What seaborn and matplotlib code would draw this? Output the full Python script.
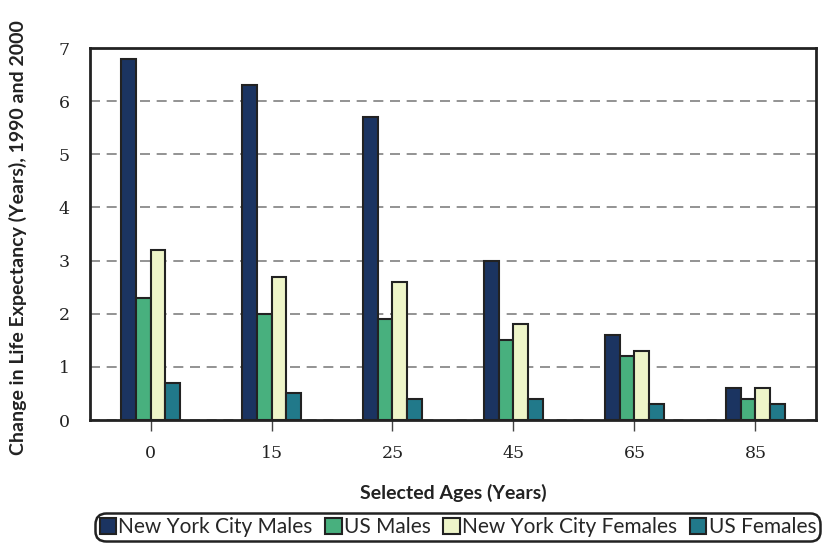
import pandas as pd
import numpy as np
import matplotlib
matplotlib.use('Agg')
import matplotlib.pyplot as plt
import seaborn as sns

# data
ages = ['0', '15', '25', '45', '65', '85']
series = ['New York City Males', 'US Males', 'New York City Females', 'US Females']
nyc_males = [6.8, 6.3, 5.7, 3.0, 1.6, 0.6]
us_males = [2.3, 2.0, 1.9, 1.5, 1.2, 0.4]
nyc_females = [3.2, 2.7, 2.6, 1.8, 1.3, 0.6]
us_females = [0.7, 0.5, 0.4, 0.4, 0.3, 0.3]
colors = ['#1b3461', '#48b07e', '#eef5c9', '#21798a']

rows = []
for name, vals in zip(series, [nyc_males, us_males, nyc_females, us_females]):
    for a, v in zip(ages, vals):
        rows.append({'age': a, 'series': name, 'value': v})
df = pd.DataFrame(rows)

sns.set_style('white')
plt.rcParams['font.family'] = ['Lato', 'DejaVu Sans']

fig = plt.figure(figsize=(8.28, 5.43), dpi=100)
ax = fig.add_axes([0.1087, 0.2265, 0.8768, 0.6851])

sns.barplot(data=df, x='age', y='value', hue='series', order=ages, hue_order=series,
            palette=colors, width=0.48, gap=0, edgecolor='#222222', linewidth=1.5,
            saturation=1, ax=ax, zorder=3)

ax.set_ylim(0, 7)
ax.set_xlim(-0.5, 5.5)
ax.set_yticks(range(0, 8))
ax.yaxis.grid(True, linestyle=(0, (6, 4)), color='#808080', linewidth=1.2, zorder=0)
ax.set_axisbelow(True)
for s in ax.spines.values():
    s.set_color('#222222')
    s.set_linewidth(2)
    s.set_visible(True)

ax.tick_params(axis='x', bottom=True, length=8, width=1, color='#444444', pad=10)
ax.tick_params(axis='y', left=False, pad=11)
for lab in ax.get_xticklabels() + ax.get_yticklabels():
    lab.set_family('DejaVu Serif')
    lab.set_fontsize(12.5)
    lab.set_color('#222222')

ax.set_xlabel('Selected Ages (Years)', fontsize=14, fontweight='bold', labelpad=16, color='#222222')
ax.set_ylabel('Change in Life Expectancy (Years), 1990 and 2000', fontsize=14,
              fontweight='bold', color='#222222')
ax.yaxis.set_label_coords(-0.087, 0.49)

ax.get_legend().remove()
handles = [plt.Rectangle((0, 0), 1, 1, facecolor=c, edgecolor='#222222', linewidth=1.5) for c in colors]
leg = fig.legend(handles, series, loc='center', bbox_to_anchor=(0.553, 0.029), ncol=4,
                 frameon=True, fancybox=True, framealpha=1, fontsize=15, handlelength=0.8,
                 handleheight=0.8, handletextpad=0.1, columnspacing=0.6, borderpad=0.2,
                 borderaxespad=0)
leg.get_frame().set_edgecolor('#222222')
leg.get_frame().set_linewidth(1.8)
leg.get_frame().set_boxstyle('round', pad=0.0, rounding_size=0.5)

fig.savefig('out.png', dpi=100)
